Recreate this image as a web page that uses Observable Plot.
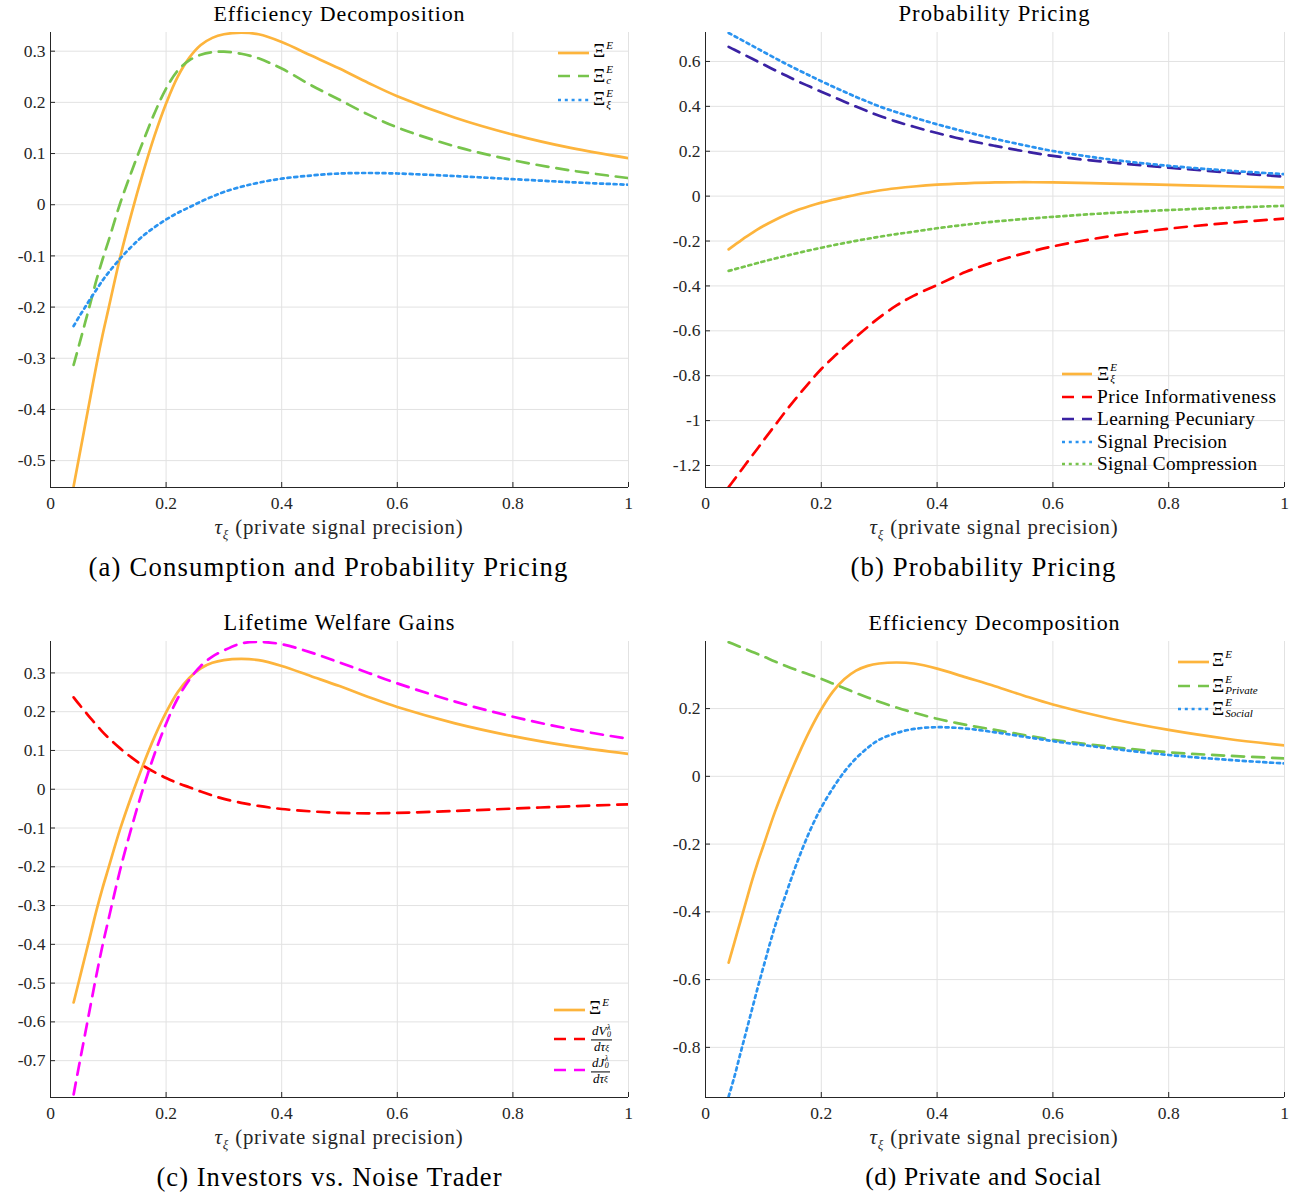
<!DOCTYPE html>
<html>
<head>
<meta charset="utf-8">
<script src="https://cdn.jsdelivr.net/npm/d3@7"></script>
<script src="https://cdn.jsdelivr.net/npm/@observablehq/plot@0.6"></script>
<style>
  html, body { margin: 0; padding: 0; background: #fff; }
  body { width: 1301px; height: 1197px; position: relative; overflow: hidden; font-family: "Liberation Serif", "Times New Roman", serif; color: #000; }
  .txt { position: absolute; white-space: nowrap; transform: translate(-50%, -50%); line-height: 1; }
  .title { font-size: 20px; }
  .xlab { font-size: 19.5px; color: #262626; }
  .cap { font-size: 24px; }
  .row { position: absolute; height: 0; }
  .row svg { position: absolute; left: 0; top: -4px; overflow: visible; }
  .lab { position: absolute; top: 0; white-space: nowrap; transform: translateY(-50%); font-size: 19px; line-height: 1; display: inline-flex; align-items: center; color: #000; }
  .stk { display: inline-flex; flex-direction: column; font-size: 11px; line-height: 1; font-style: italic; margin-left: 1px; }
  .stk.e1 { transform: translateY(-5px); }
  .frac { display: inline-flex; flex-direction: column; align-items: center; font-size: 13px; font-style: italic; line-height: 0.88; margin-left: 2px; }
  .frac .n { border-bottom: 1px solid #000; padding: 0 1px 1px; display: inline-flex; align-items: center; }
  .frac .d { padding-top: 1px; display: inline-flex; align-items: center; }
  .ss { display: inline-flex; flex-direction: column; font-size: 8px; line-height: 0.92; margin-left: 0.5px; }
  .sb { font-size: 9px; transform: translateY(2px); display: inline-block; }
  .xlab sub { font-size: 13px; }
</style>
</head>
<body>
<script>
// ---------- data ----------
const tau = [0.04, 0.05, 0.06, 0.07, 0.08, 0.09, 0.10, 0.12, 0.14, 0.16, 0.18, 0.20, 0.22, 0.24,
             0.26, 0.28, 0.30, 0.33, 0.36, 0.40, 0.45, 0.50, 0.55, 0.60, 0.70, 0.80, 0.90, 1.00];

// Xi^E (total)
const xiE = [-0.550, -0.490, -0.430, -0.370, -0.310, -0.255, -0.205, -0.105, -0.018, 0.062, 0.135, 0.198, 0.250, 0.287,
             0.312, 0.326, 0.333, 0.336, 0.333, 0.318, 0.292, 0.266, 0.238, 0.212, 0.170, 0.137, 0.111, 0.091];
// Xi^E_c (consumption)
const xiEc = [-0.313, -0.272, -0.230, -0.188, -0.145, -0.107, -0.072, 0.001, 0.064, 0.123, 0.179, 0.227, 0.262, 0.282,
              0.293, 0.298, 0.299, 0.295, 0.286, 0.266, 0.234, 0.205, 0.176, 0.151, 0.114, 0.087, 0.067, 0.052];
// Xi^E_xi (probability pricing)
const xiExi = [-0.237, -0.218, -0.200, -0.182, -0.165, -0.148, -0.133, -0.106, -0.082, -0.061, -0.044, -0.029, -0.016, -0.005,
               0.006, 0.016, 0.025, 0.035, 0.043, 0.051, 0.057, 0.061, 0.062, 0.061, 0.056, 0.050, 0.044, 0.039];

// Probability pricing components
const priceInfo = [-1.296, -1.262, -1.227, -1.192, -1.158, -1.124, -1.089, -1.021, -0.953, -0.889, -0.828, -0.770, -0.720, -0.673,
                   -0.627, -0.583, -0.541, -0.487, -0.443, -0.396, -0.337, -0.292, -0.255, -0.224, -0.178, -0.145, -0.120, -0.100];
const learnPec = [0.665, 0.652, 0.639, 0.626, 0.613, 0.600, 0.587, 0.561, 0.536, 0.511, 0.488, 0.465, 0.443, 0.421,
                  0.399, 0.378, 0.358, 0.332, 0.309, 0.281, 0.250, 0.224, 0.200, 0.179, 0.150, 0.127, 0.106, 0.087];
const sigPrec = [0.727, 0.713, 0.699, 0.685, 0.671, 0.657, 0.643, 0.615, 0.588, 0.562, 0.537, 0.512, 0.488, 0.465,
                 0.442, 0.421, 0.400, 0.374, 0.350, 0.320, 0.286, 0.255, 0.227, 0.201, 0.163, 0.135, 0.114, 0.098];
const sigComp = [-0.333, -0.326, -0.319, -0.312, -0.305, -0.298, -0.291, -0.278, -0.265, -0.253, -0.241, -0.230, -0.219, -0.209,
                 -0.199, -0.190, -0.181, -0.169, -0.158, -0.143, -0.127, -0.113, -0.102, -0.092, -0.075, -0.062, -0.052, -0.043];

// Investors vs noise trader
const dV = [0.237, 0.218, 0.200, 0.182, 0.165, 0.148, 0.133, 0.106, 0.082, 0.061, 0.044, 0.029, 0.016, 0.005,
            -0.006, -0.016, -0.025, -0.035, -0.043, -0.051, -0.057, -0.061, -0.062, -0.061, -0.056, -0.050, -0.044, -0.039];
const dJ = [-0.787, -0.708, -0.630, -0.552, -0.475, -0.403, -0.338, -0.211, -0.100, 0.001, 0.091, 0.169, 0.234, 0.282,
            0.318, 0.342, 0.358, 0.376, 0.380, 0.374, 0.353, 0.327, 0.300, 0.273, 0.226, 0.187, 0.155, 0.130];

// Private and social
const xiPrivate = [0.396, 0.389, 0.382, 0.375, 0.368, 0.361, 0.354, 0.339, 0.325, 0.312, 0.300, 0.288, 0.274, 0.260,
                   0.246, 0.233, 0.220, 0.203, 0.188, 0.170, 0.152, 0.137, 0.122, 0.108, 0.087, 0.071, 0.061, 0.053];
const xiSocial = [-0.945, -0.886, -0.820, -0.755, -0.690, -0.625, -0.563, -0.443, -0.342, -0.246, -0.162, -0.092, -0.035, 0.014,
                  0.053, 0.084, 0.108, 0.128, 0.140, 0.145, 0.141, 0.130, 0.117, 0.104, 0.082, 0.063, 0.049, 0.038];

// ticks
const xTicks = [0, 0.2, 0.4, 0.6, 0.8, 1];
const xTickLabels = ["0", "0.2", "0.4", "0.6", "0.8", "1"];
const yTicksA = [-0.5, -0.4, -0.3, -0.2, -0.1, 0, 0.1, 0.2, 0.3];
const yLabelsA = ["-0.5", "-0.4", "-0.3", "-0.2", "-0.1", "0", "0.1", "0.2", "0.3"];
const yTicksB = [-1.2, -1, -0.8, -0.6, -0.4, -0.2, 0, 0.2, 0.4, 0.6];
const yLabelsB = ["-1.2", "-1", "-0.8", "-0.6", "-0.4", "-0.2", "0", "0.2", "0.4", "0.6"];
const yTicksC = [-0.7, -0.6, -0.5, -0.4, -0.3, -0.2, -0.1, 0, 0.1, 0.2, 0.3];
const yLabelsC = ["-0.7", "-0.6", "-0.5", "-0.4", "-0.3", "-0.2", "-0.1", "0", "0.1", "0.2", "0.3"];
const yTicksD = [-0.8, -0.6, -0.4, -0.2, 0, 0.2];
const yLabelsD = ["-0.8", "-0.6", "-0.4", "-0.2", "0", "0.2"];

// ---------- styles ----------
const C = {
  orange: "#FDB43C", green: "#77C44C", blue: "#2A93F0", red: "#FF0000", navy: "#3A22A3", magenta: "#FF00FF"
};
const SOLID = null, DASH = "12,8", DOT = "3,3.8";
const FONT = "'Liberation Serif', 'Times New Roman', serif";

const XI = (sup, sub) => sub == null
  ? `Ξ<span class="stk e1"><span>${sup}</span></span>`
  : `Ξ<span class="stk"><span>${sup}</span><span>${sub}</span></span>`;
const FRAC = (num, den) => `<span class="frac"><span class="n">${num}</span><span class="d">${den}</span></span>`;
const NUM = (L) => `d${L}<span class="ss"><span>λ</span><span>0</span></span>`;
const DEN = `dτ<span class="sb">ξ</span>`;

const panels = [
  {
    svgLeft: 0, svgTop: 0, W: 650, H: 545, ml: 50, mr: 22, mt: 32, mb: 58,
    yDomain: [-0.5525, 0.3365], yTicks: yTicksA, yLabels: yLabelsA,
    title: "Efficiency Decomposition", titleX: 339.5, titleY: 14, titleW: 251,
    xlabY: 529, xlabX: 339, cap: "(a) Consumption and Probability Pricing", capX: 328.5, capY: 567, capW: 479,
    series: [
      {v: xiE, c: C.orange, d: SOLID, lab: XI("E")},
      {v: xiEc, c: C.green, d: DASH, lab: XI("E", "c")},
      {v: xiExi, c: C.blue, d: DOT, lab: XI("E", "ξ")}
    ],
    leg: {x1: 558, len: 31, labX: 593, rows: [53, 76, 99.5], dy: [-3, -1, -1]}
  },
  {
    svgLeft: 650, svgTop: 0, W: 651, H: 545, ml: 55, mr: 17, mt: 32, mb: 58,
    yDomain: [-1.298, 0.729], yTicks: yTicksB, yLabels: yLabelsB,
    title: "Probability Pricing", titleX: 994.5, titleY: 14, titleW: 191,
    xlabY: 529, xlabX: 994, cap: "(b) Probability Pricing", capX: 983.5, capY: 567, capW: 265,
    series: [
      {v: xiExi, c: C.orange, d: SOLID, lab: XI("E", "ξ")},
      {v: priceInfo, c: C.red, d: DASH, lab: "Price Informativeness", w: 179},
      {v: learnPec, c: C.navy, d: DASH, lab: "Learning Pecuniary", w: 158},
      {v: sigPrec, c: C.blue, d: DOT, lab: "Signal Precision", w: 130},
      {v: sigComp, c: C.green, d: DOT, lab: "Signal Compression", w: 160}
    ],
    leg: {x1: 1062, len: 30, labX: 1097, rows: [374, 397, 419, 442, 464], dy: [-1, 0, 0, 0, 0]}
  },
  {
    svgLeft: 0, svgTop: 609, W: 650, H: 546, ml: 50, mr: 22, mt: 32, mb: 58,
    yDomain: [-0.795, 0.381], yTicks: yTicksC, yLabels: yLabelsC,
    title: "Lifetime Welfare Gains", titleX: 339.5, titleY: 623, titleW: 231,
    xlabY: 1139, xlabX: 339, cap: "(c) Investors vs. Noise Trader", capX: 329.5, capY: 1177, capW: 345,
    series: [
      {v: xiE, c: C.orange, d: SOLID, lab: XI("E")},
      {v: dV, c: C.red, d: DASH, lab: FRAC(NUM("V"), DEN)},
      {v: dJ, c: C.magenta, d: DASH, lab: FRAC(NUM("J"), DEN)}
    ],
    leg: {x1: 554, len: 31, labX: 589, rows: [1010, 1038.5, 1070], dy: [-3, 0, 0]}
  },
  {
    svgLeft: 650, svgTop: 609, W: 651, H: 546, ml: 55, mr: 17, mt: 32, mb: 58,
    yDomain: [-0.948, 0.398], yTicks: yTicksD, yLabels: yLabelsD,
    title: "Efficiency Decomposition", titleX: 994.5, titleY: 623, titleW: 251,
    xlabY: 1139, xlabX: 994, cap: "(d) Private and Social", capX: 983.5, capY: 1177, capW: 236,
    series: [
      {v: xiE, c: C.orange, d: SOLID, lab: XI("E")},
      {v: xiPrivate, c: C.green, d: DASH, lab: XI("E", "Private")},
      {v: xiSocial, c: C.blue, d: DOT, lab: XI("E", "Social")}
    ],
    leg: {x1: 1178, len: 31, labX: 1212, rows: [662, 686, 709], dy: [-3, -1, -1]}
  }
];

const AX = "#262626";
const body = document.body;

// widen text toward the reference width: part by font size, rest by letter spacing
function fitText(el, target, sizeShare) {
  const w0 = el.getBoundingClientRect().width;
  const fs0 = parseFloat(getComputedStyle(el).fontSize);
  const s = target / w0;
  const k = 1 + (s - 1) * sizeShare;
  el.style.fontSize = (fs0 * k).toFixed(2) + "px";
  const w1 = el.getBoundingClientRect().width;
  const n = Math.max(1, el.textContent.length - 1);
  el.style.letterSpacing = ((target - w1) / n).toFixed(3) + "px";
}

function addText(cls, html, x, y, targetW, share) {
  const el = document.createElement("div");
  el.className = "txt " + cls;
  el.innerHTML = html;
  el.style.left = x + "px";
  el.style.top = y + "px";
  body.appendChild(el);
  if (targetW) fitText(el, targetW, share);
  return el;
}

for (const p of panels) {
  const fw = p.W - p.ml - p.mr, fh = p.H - p.mt - p.mb;
  const marks = [
    Plot.gridX(xTicks, {stroke: "#e2e2e2", strokeOpacity: 1, strokeWidth: 1}),
    Plot.gridY(p.yTicks, {stroke: "#e2e2e2", strokeOpacity: 1, strokeWidth: 1}),
    ...p.series.map(s => Plot.line(tau.map((t, i) => ({t, v: s.v[i]})), {
      x: "t", y: "v", stroke: s.c, strokeWidth: 2.7, strokeDasharray: s.d, curve: "catmull-rom", clip: true
    })),
    Plot.ruleX([0], {stroke: AX, strokeWidth: 1}),
    Plot.ruleY([p.yDomain[0]], {stroke: AX, strokeWidth: 1}),
    Plot.tickX(xTicks, {x: d => d, insetTop: fh - 5, stroke: AX}),
    Plot.tickY(p.yTicks, {y: d => d, insetRight: fw - 5, stroke: AX}),
    Plot.axisX(xTicks, {tickSize: 0, tickPadding: 9, tickFormat: d => xTickLabels[xTicks.indexOf(d)], label: null, fill: AX, fontSize: 17.5, fontFamily: FONT}),
    Plot.axisY(p.yTicks, {tickSize: 0, tickPadding: 5, tickFormat: d => p.yLabels[p.yTicks.indexOf(d)], label: null, fill: AX, fontSize: 17.5, fontFamily: FONT})
  ];
  const svg = Plot.plot({
    width: p.W, height: p.H,
    marginLeft: p.ml, marginRight: p.mr, marginTop: p.mt, marginBottom: p.mb,
    x: {domain: [0, 1]},
    y: {domain: p.yDomain},
    style: {fontFamily: FONT, fontSize: "17.5px", background: "transparent", overflow: "visible"},
    marks
  });
  svg.style.position = "absolute";
  svg.style.left = p.svgLeft + "px";
  svg.style.top = p.svgTop + "px";
  body.appendChild(svg);

  addText("title", p.title, p.titleX, p.titleY, p.titleW, 0.5);
  addText("xlab", `<i>τ</i><sub><i>ξ</i></sub> (private signal precision)`, p.xlabX, p.xlabY, 248, 0.4);
  addText("cap", p.cap, p.capX, p.capY, p.capW, 0.5);

  p.series.forEach((s, i) => {
    const row = document.createElement("div");
    row.className = "row";
    row.style.left = p.leg.x1 + "px";
    row.style.top = p.leg.rows[i] + "px";
    const ns = "http://www.w3.org/2000/svg";
    const ls = document.createElementNS(ns, "svg");
    ls.setAttribute("width", p.leg.len);
    ls.setAttribute("height", 8);
    const ln = document.createElementNS(ns, "line");
    ln.setAttribute("x1", 0); ln.setAttribute("x2", p.leg.len);
    ln.setAttribute("y1", 4); ln.setAttribute("y2", 4);
    ln.setAttribute("stroke", s.c);
    ln.setAttribute("stroke-width", 2.7);
    if (s.d) ln.setAttribute("stroke-dasharray", s.d);
    ls.appendChild(ln);
    row.appendChild(ls);
    const lab = document.createElement("span");
    lab.className = "lab";
    lab.innerHTML = s.lab;
    lab.style.left = (p.leg.labX - p.leg.x1) + "px";
    lab.style.marginTop = p.leg.dy[i] + "px";
    row.appendChild(lab);
    body.appendChild(row);
    if (s.w) fitText(lab, s.w, 0.3);
  });
}
</script>
</body>
</html>
